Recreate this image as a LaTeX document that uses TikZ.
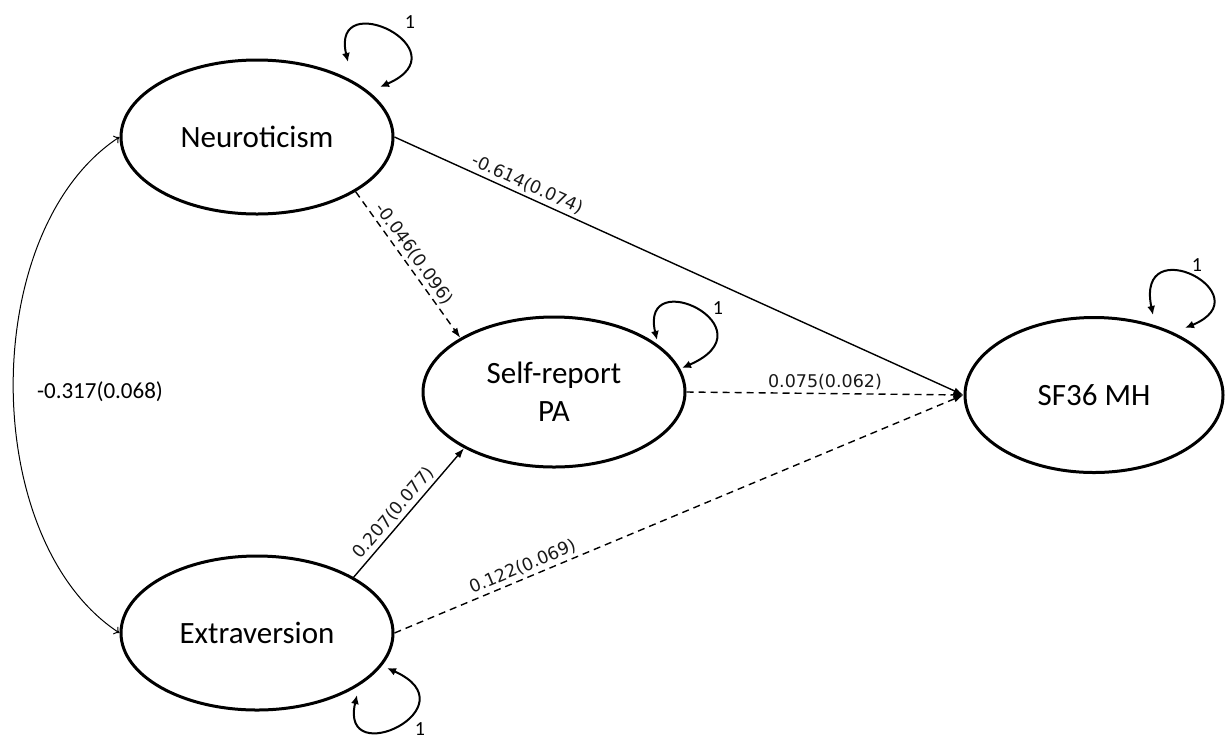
\documentclass[tikz,border=0pt]{standalone}
\usepackage{fontspec}
\setmainfont{Carlito}
\newfontfamily\dejavu{DejaVu Sans}
\usetikzlibrary{shapes.geometric,arrows.meta}
\begin{document}
\begin{tikzpicture}[x=1pt,y=-1pt,
  latent/.style={ellipse,draw,line width=3pt,minimum width=272pt,minimum height=154pt,inner sep=0pt,font=\fontsize{31}{38}\selectfont,align=center},
  pathsolid/.style={line width=1.4pt,-{Latex[length=10pt,width=7pt]}},
  pathdash/.style={pathsolid,dash pattern=on 7pt off 5pt},
  selfloop/.style={line width=2pt,{Latex[length=9pt,width=8pt]}-{Latex[length=9pt,width=8pt]}},
  elab/.style={font=\dejavu\fontsize{17.5}{20}\selectfont,text=black!90,inner sep=3pt},
  one/.style={font=\fontsize{20}{22}\selectfont}
]
\useasboundingbox (0,0) rectangle (1225,740);

\node[latent] (N) at (257,137) {Neuroticism};
\node[latent] (E) at (257,633) {Extraversion};
\node[latent, minimum width=262pt, minimum height=150pt] (P) at (554,392) {Self-report\\PA};
\node[latent, minimum width=258pt, minimum height=155pt] (S) at (1094,395) {SF36 MH};

\draw[pathsolid] (N.east) -- (S.west) node[elab,pos=0.225,sloped,above]{-0.614(0.074)};
\draw[pathdash] (N.-29) -- (P.150) node[elab,pos=0.47,sloped,above]{-0.046(0.096)};
\draw[pathsolid] (E.30) -- (P.-148) node[elab,pos=0.44,sloped,above]{0.207(0.077)};
\draw[pathdash] (E.east) -- (S.west) node[elab,pos=0.233,sloped,above]{0.122(0.069)};
\draw[pathdash] (P.east) -- (S.west) node[elab,pos=0.5,above]{0.075(0.062)};

\draw[line width=1pt,{To[length=5pt,width=9pt]}-{To[length=5pt,width=9pt]}] (N.west) .. controls (-22,230) and (-22,540) .. (E.west);
\node[font=\fontsize{23}{26}\selectfont] (cov) at (100,392) {-0.317(0.068)};

\coordinate (n1) at (348,62); \coordinate (n2) at (380,87);
\draw[selfloop] (n1) .. controls (330,-15) and (465,50) .. (n2);
\node[one] (n1l) at (410,22) {1};

\coordinate (p1) at (657,340); \coordinate (p2) at (682,368);
\draw[selfloop] (p1) .. controls (639,263) and (774,328) .. (p2);
\node[one] (p1l) at (718,308) {1};

\coordinate (s1) at (1153,315); \coordinate (s2) at (1185,328);
\draw[selfloop] (s1) .. controls (1135,228) and (1265,295) .. (s2);
\node[one] (s1l) at (1197,265) {1};

\coordinate (e1) at (357,695); \coordinate (e2) at (387,668);
\draw[selfloop] (e1) .. controls (339,772) and (474,707) .. (e2);
\node[one] (e1l) at (420,729) {1};
\end{tikzpicture}
\end{document}
